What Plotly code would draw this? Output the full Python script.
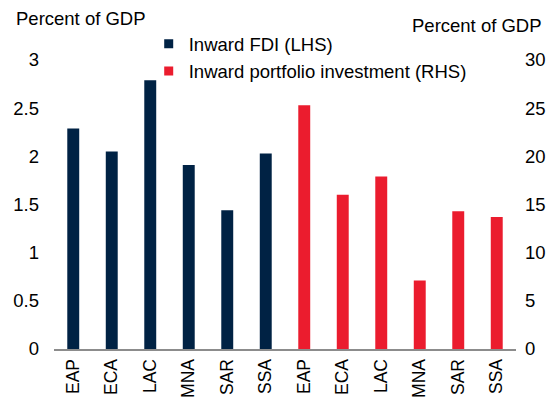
import plotly.graph_objects as go

# Regions shown along the x axis (same six regions for each series)
regions = ["EAP", "ECA", "LAC", "MNA", "SAR", "SSA"]

# Inward FDI, percent of GDP (left axis)
fdi = [2.29, 2.05, 2.79, 1.91, 1.44, 2.03]

# Inward portfolio investment, percent of GDP (right axis)
portfolio = [25.3, 16.0, 17.9, 7.1, 14.3, 13.7]

left_ticks = [0, 0.5, 1, 1.5, 2, 2.5, 3]
right_ticks = [0, 5, 10, 15, 20, 25, 30]

NAVY = "#002244"
RED = "#EB1C2E"
FONT = "Liberation Sans, Arial, sans-serif"
FS = 18.5

n = len(regions)
x_fdi = list(range(n))
x_port = list(range(n, 2 * n))

fig = go.Figure()

fig.add_trace(go.Bar(
    x=x_fdi, y=fdi, width=0.31, marker=dict(color=NAVY, line=dict(width=0)),
    showlegend=False, yaxis="y",
))
fig.add_trace(go.Bar(
    x=x_port, y=portfolio, width=0.31, marker=dict(color=RED, line=dict(width=0)),
    showlegend=False, yaxis="y2",
))

# Legend entries with small square swatches
fig.add_trace(go.Scatter(
    x=[None], y=[None], mode="markers", name="Inward FDI (LHS)",
    marker=dict(symbol="square", size=9, color=NAVY),
))
fig.add_trace(go.Scatter(
    x=[None], y=[None], mode="markers", name="Inward portfolio investment (RHS)",
    marker=dict(symbol="square", size=9, color=RED),
))

fig.update_layout(
    width=551, height=398,
    margin=dict(l=54, r=35, t=60, b=49, autoexpand=False),
    paper_bgcolor="white", plot_bgcolor="white",
    font=dict(family=FONT, size=FS, color="#000000"),
    barmode="overlay",
    showlegend=True,
    legend=dict(
        x=0.205, y=1.12, xanchor="left", yanchor="top",
        bgcolor="rgba(0,0,0,0)", borderwidth=0,
        font=dict(family=FONT, size=FS), itemwidth=30,
        tracegroupgap=0,
    ),
    xaxis=dict(
        range=[-0.5, 2 * n - 0.5],
        tickvals=x_fdi + x_port, ticktext=regions + regions,
        tickangle=-90, showgrid=False, zeroline=False,
        showline=True, linecolor="#8C8C8C", linewidth=2,
        ticks="", ticklabelstandoff=1, automargin=False,
        tickfont=dict(family=FONT, size=17.5),
    ),
    yaxis=dict(
        range=[0, 3], tickvals=left_ticks,
        ticktext=[f"{v:g}" for v in left_ticks],
        showgrid=False, zeroline=False, showline=False,
        ticks="", ticklabelstandoff=14, automargin=False,
    ),
    yaxis2=dict(
        range=[0, 30], tickvals=right_ticks,
        overlaying="y", side="right",
        showgrid=False, zeroline=False, showline=False,
        ticks="", ticklabelstandoff=8, automargin=False,
    ),
    annotations=[
        dict(text="Percent of GDP", xref="paper", yref="paper",
             x=-0.087, y=1.145, xanchor="left", yanchor="middle",
             showarrow=False, font=dict(family=FONT, size=FS)),
        dict(text="Percent of GDP", xref="paper", yref="paper",
             x=1.061, y=1.12, xanchor="right", yanchor="middle",
             showarrow=False, font=dict(family=FONT, size=FS)),
    ],
)

fig.write_html("out.html")
